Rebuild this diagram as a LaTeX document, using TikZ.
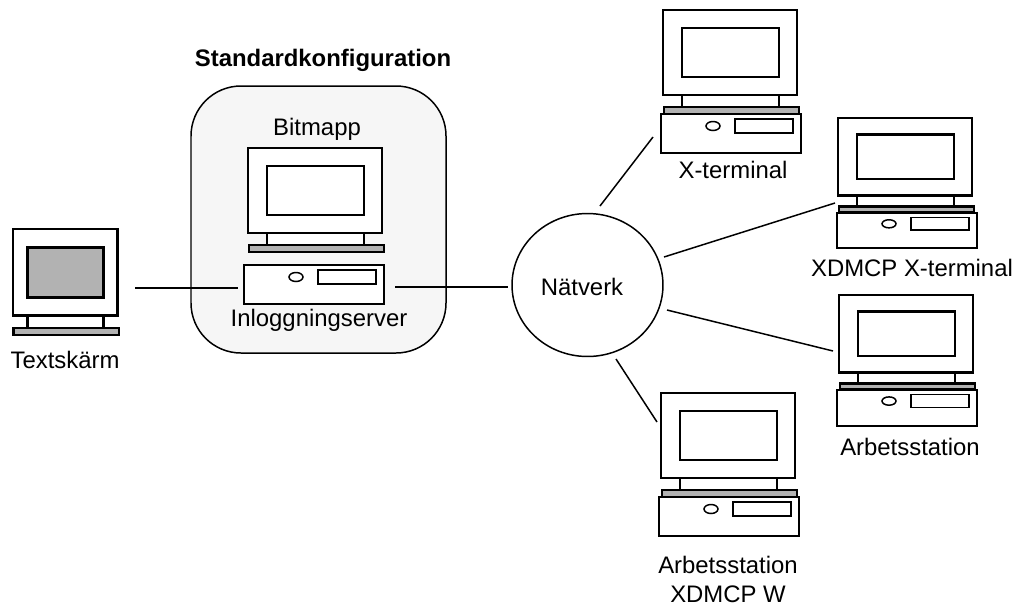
\documentclass[tikz,border=0pt]{standalone}
\usepackage{fontspec}
\usetikzlibrary{shapes.geometric}
\setmainfont{Liberation Sans}
\definecolor{panelgray}{HTML}{F6F6F6}
\definecolor{screengray}{HTML}{B2B2B2}
\tikzset{
	thick line/.style={draw=black,line width=1.6pt},
	thin line/.style={draw=black,line width=0.85pt},
	caption/.style={font=\fontsize{13.6}{16.5}\selectfont,inner sep=0pt,align=center},
	pics/monitor/.style={code={
		\draw[thick line,fill=white] (0,0) rectangle (134,85);
		\draw[thick line,fill=#1] (19,18) rectangle (116,67);
		\draw[thick line,fill=white] (19,85) rectangle (116,97);
		\draw[thick line,fill=screengray] (1,97) rectangle (136,104);
	}},
	pics/pcbox/.style={code={
		\draw[thin line,fill=white] (0,0) rectangle (140,39);
		\draw[thin line,fill=white] (52,12) ellipse (7 and 4.5);
		\draw[thin line,fill=white] (74,5) rectangle (132,19);
	}}
}
\begin{document}
\begin{tikzpicture}[x=0.02cm,y=-0.02cm]
	\useasboundingbox (0,0) rectangle (1017,606);

	\draw[thin line,fill=panelgray,rounded corners=1cm] (191,86) rectangle (446,353);

	\pic (textscreen) [xscale=0.78,yscale=1.02] at (13,229) {monitor=screengray};
	\pic (bitmap) at (248,148) {monitor=white};
	\pic (serverbox) at (244,265) {pcbox};
	\pic (xterm) at (663,10) {monitor=white};
	\pic (xtermbox) at (661,114) {pcbox};
	\pic (xdmcp) [yscale=0.91] at (838,118) {monitor=white};
	\pic (xdmcpbox) [yscale=0.9] at (837,213) {pcbox};
	\pic (station) [yscale=0.91] at (839,295) {monitor=white};
	\pic (stationbox) [yscale=0.92] at (837,390) {pcbox};
	\pic (stationw) at (661,393) {monitor=white};
	\pic (stationwbox) at (659,497) {pcbox};

	\node[caption] (title) at (323,60) {\textbf{Standardkonfiguration}};
	\node[caption] (bitmaplabel) at (317,129) {Bitmapp};
	\node[caption] (serverlabel) at (319,320) {Inloggningserver};
	\node[caption] (textlabel) at (65,360) {Textskärm};
	\node[caption] (xtermlabel) at (733,170) {X-terminal};
	\node[caption] (xdmcplabel) at (912,268) {XDMCP X-terminal};
	\node[caption] (stationlabel) at (910,447) {Arbetsstation};
	\node[caption] (stationwlabel) at (728,579) {Arbetsstation\\XDMCP W};
	\node[thin line,shape=ellipse,inner sep=0pt,minimum width=3.02cm,minimum height=2.86cm] (net) at (587.5,285) {};
	\node[caption] (netlabel) at (582,287) {Nätverk};

	\coordinate (textend) at (135,288);
	\coordinate (serverleft) at (238,288);
	\coordinate (serverright) at (395,287);
	\coordinate (netleft) at (508,287);
	\coordinate (nettop) at (600,206);
	\coordinate (xtermend) at (653,137);
	\coordinate (netupper) at (664,257);
	\coordinate (xdmcpend) at (835,203);
	\coordinate (netlower) at (667,310);
	\coordinate (stationend) at (833,351);
	\coordinate (netbottom) at (616,359);
	\coordinate (stationwend) at (657,422);

	\path[-,thin line] (textend) edge (serverleft);
	\path[-,thin line] (serverright) edge (netleft);
	\path[-,thin line] (nettop) edge (xtermend);
	\path[-,thin line] (netupper) edge (xdmcpend);
	\path[-,thin line] (netlower) edge (stationend);
	\path[-,thin line] (netbottom) edge (stationwend);
\end{tikzpicture}
\end{document}
